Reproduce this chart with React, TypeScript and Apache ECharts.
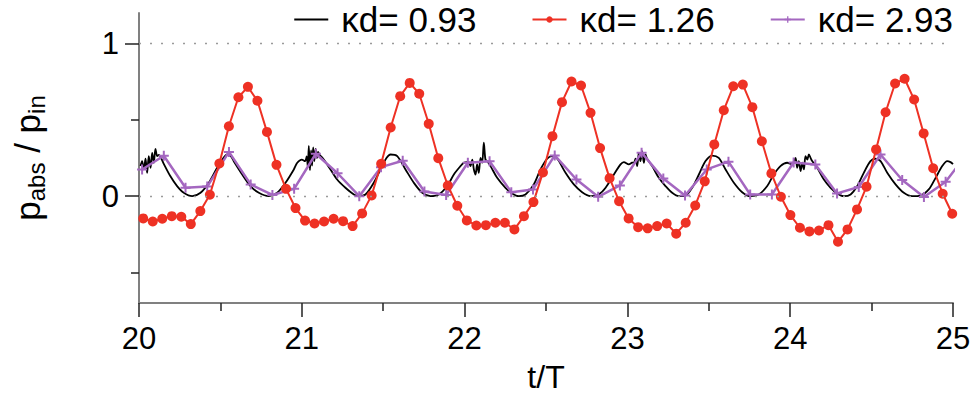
import React, { useEffect, useRef } from "react";
import * as echarts from "echarts";

const FONT = '"Liberation Sans", Arial, Helvetica, sans-serif';

// legend / series names
const seriesNames = ["κd= 0.93", "κd= 1.26", "κd= 2.93"];

// axis tick values
const xMin = 20;
const xMax = 25;
const xInterval = 1;
const yMin = -0.7;
const yMax = 1.2;
const yMajorTicks = [0, 1];
const yMinorTicks = [-0.5, 0.5];
const gridValues = [0, 1];

// κd = 0.93 : [t/T, p_abs/p_in]
const black093: [number, number][] = [
  [20.009, 0.197], [20.019, 0.229], [20.03, 0.175], [20.04, 0.245], [20.05, 0.153], [20.06, 0.262],
  [20.071, 0.186], [20.081, 0.284], [20.091, 0.219], [20.101, 0.31], [20.112, 0.262], [20.122, 0.27],
  [20.14, 0.24], [20.153, 0.21], [20.193, 0.13], [20.234, 0.066], [20.275, 0.022], [20.327, 0.0],
  [20.378, 0.022], [20.429, 0.088], [20.48, 0.186], [20.515, 0.245], [20.542, 0.273], [20.565, 0.26],
  [20.582, 0.229], [20.634, 0.142], [20.685, 0.066], [20.736, 0.022], [20.797, 0.0], [20.849, 0.022],
  [20.9, 0.088], [20.951, 0.175], [20.972, 0.219], [21.0, 0.24], [21.02, 0.229], [21.03, 0.26],
  [21.037, 0.19], [21.043, 0.33], [21.05, 0.17], [21.057, 0.3], [21.063, 0.2], [21.07, 0.32],
  [21.077, 0.23], [21.085, 0.31], [21.093, 0.25], [21.1, 0.29], [21.11, 0.27], [21.12, 0.26],
  [21.135, 0.24], [21.176, 0.175], [21.217, 0.109], [21.268, 0.055], [21.32, 0.011], [21.35, 0.0],
  [21.391, 0.011], [21.442, 0.088], [21.494, 0.197], [21.52, 0.25], [21.545, 0.273], [21.586, 0.262],
  [21.637, 0.175], [21.688, 0.088], [21.74, 0.022], [21.79, 0.0], [21.842, 0.011], [21.893, 0.066],
  [21.934, 0.142], [21.975, 0.197], [21.995, 0.219], [22.016, 0.223], [22.026, 0.223], [22.036, 0.197],
  [22.047, 0.24], [22.057, 0.175], [22.067, 0.142], [22.077, 0.208], [22.087, 0.153], [22.098, 0.25],
  [22.108, 0.219], [22.118, 0.35], [22.128, 0.24], [22.138, 0.23], [22.159, 0.197], [22.2, 0.12],
  [22.251, 0.055], [22.292, 0.018], [22.333, 0.0], [22.374, 0.011], [22.425, 0.077], [22.466, 0.175],
  [22.507, 0.245], [22.538, 0.262], [22.569, 0.245], [22.62, 0.153], [22.671, 0.077], [22.722, 0.026],
  [22.773, 0.0], [22.824, 0.011], [22.866, 0.055], [22.917, 0.142], [22.958, 0.208], [22.978, 0.223],
  [23.009, 0.208], [23.029, 0.219], [23.04, 0.22], [23.05, 0.245], [23.06, 0.197], [23.07, 0.284],
  [23.08, 0.23], [23.091, 0.295], [23.101, 0.219], [23.111, 0.273], [23.121, 0.245], [23.152, 0.197],
  [23.193, 0.12], [23.234, 0.066], [23.275, 0.022], [23.316, 0.0], [23.357, 0.004], [23.398, 0.055],
  [23.439, 0.142], [23.48, 0.23], [23.521, 0.266], [23.561, 0.251], [23.603, 0.175], [23.654, 0.088],
  [23.705, 0.026], [23.756, 0.0], [23.807, 0.011], [23.859, 0.066], [23.899, 0.142], [23.94, 0.197],
  [23.981, 0.219], [24.012, 0.208], [24.033, 0.251], [24.043, 0.186], [24.053, 0.23], [24.064, 0.164],
  [24.074, 0.219], [24.084, 0.175], [24.094, 0.262], [24.105, 0.24], [24.115, 0.273], [24.125, 0.251],
  [24.135, 0.23], [24.166, 0.186], [24.207, 0.109], [24.248, 0.055], [24.289, 0.018], [24.329, 0.0],
  [24.371, 0.011], [24.412, 0.066], [24.452, 0.153], [24.493, 0.23], [24.524, 0.245], [24.555, 0.23],
  [24.596, 0.153], [24.647, 0.077], [24.698, 0.022], [24.749, 0.0], [24.8, 0.004], [24.851, 0.044],
  [24.893, 0.12], [24.934, 0.197], [24.964, 0.23], [24.985, 0.223], [25.0, 0.21],
];

// κd = 1.26 : sampled every red126Step from red126Start
const red126Start = 20.026;
const red126Step = 0.05846;
const red126: number[] = [
  -0.146, -0.166, -0.148, -0.131, -0.135, -0.183, -0.098, 0.009, 0.214, 0.458,
  0.648, 0.716, 0.625, 0.421, 0.205, 0.048, -0.078, -0.16, -0.179, -0.166,
  -0.148, -0.164, -0.196, -0.113, 0.005, 0.212, 0.45, 0.655, 0.742, 0.671,
  0.474, 0.249, 0.07, -0.063, -0.159, -0.192, -0.19, -0.174, -0.174, -0.218,
  -0.131, -0.039, 0.155, 0.393, 0.616, 0.751, 0.725, 0.546, 0.315, 0.118,
  -0.033, -0.146, -0.203, -0.211, -0.196, -0.179, -0.246, -0.174, -0.061, 0.097,
  0.339, 0.563, 0.72, 0.731, 0.583, 0.36, 0.149, -0.004, -0.124, -0.207,
  -0.231, -0.225, -0.19, -0.299, -0.218, -0.087, 0.062, 0.306, 0.55, 0.738,
  0.769, 0.633, 0.411, 0.183, 0.016, -0.115,
];

// κd = 2.93 : sampled every purple293Step from purple293Start
const purple293Start = 20.019;
const purple293Step = 0.1334;
const purple293: number[] = [
  0.175, 0.265, 0.055, 0.063, 0.29, 0.077, 0.008, 0.048, 0.278, 0.15,
  0.0, 0.19, 0.232, 0.03, 0.008, 0.219, 0.229, 0.026, 0.044, 0.267,
  0.109, -0.004, 0.07, 0.285, 0.115, 0.004, 0.175, 0.226, 0.011, 0.011,
  0.221, 0.207, 0.018, 0.06, 0.273, 0.106, -0.005, 0.095, 0.28,
];

const BLACK = "#000000";
const RED = "#ee3124";
const PURPLE = "#a467c0";
const PLUS = "path://M4,0 H6 V4 H10 V6 H6 V10 H4 V6 H0 V4 H4 Z";

function buildOption() {
  const redData = red126.map((v, i) => [red126Start + i * red126Step, v]);
  const purpleData = purple293.map((v, i) => [purple293Start + i * purple293Step, v]);
  const tickStyle = { color: "#222", width: 1.5 };
  const axisLineStyle = { color: "#808080", width: 2 };
  return {
    animation: false,
    backgroundColor: "#ffffff",
    grid: { left: 139, right: 20, top: 13, bottom: 97, outerBoundsMode: "none", containLabel: false },
    legend: {
      data: [
        { name: seriesNames[0], itemStyle: { opacity: 0 } },
        { name: seriesNames[1] },
        { name: seriesNames[2] },
      ],
      right: 20,
      top: 2,
      padding: 0,
      itemWidth: 34,
      itemHeight: 8,
      itemGap: 55,
      textStyle: { fontFamily: FONT, fontSize: 35, color: "#000", padding: [0, 0, 0, 8] },
    },
    xAxis: {
      type: "value",
      min: xMin,
      max: xMax,
      interval: xInterval,
      axisLine: { show: true, onZero: false, lineStyle: axisLineStyle },
      axisTick: { show: true, length: 14, lineStyle: tickStyle },
      minorTick: { show: true, splitNumber: 2, length: 8, lineStyle: tickStyle },
      axisLabel: { fontFamily: FONT, fontSize: 31, color: "#000", margin: 20 },
      splitLine: { show: false },
      minorSplitLine: { show: false },
      name: "t/T",
      nameLocation: "middle",
      nameGap: 58,
      nameTextStyle: { fontFamily: FONT, fontSize: 32, color: "#000" },
    },
    yAxis: [
      {
        type: "value",
        min: yMin,
        max: yMax,
        position: "left",
        axisLine: { show: true, onZero: false, lineStyle: axisLineStyle },
        axisTick: { show: true, length: 14, lineStyle: tickStyle, customValues: yMajorTicks },
        axisLabel: { fontFamily: FONT, fontSize: 31, color: "#000", margin: 20, customValues: yMajorTicks },
        splitLine: { show: false },
        name: "{m|p}{s|abs}{m| / p}{s|in}",
        nameLocation: "middle",
        nameGap: 91,
        nameTextStyle: {
          fontFamily: FONT,
          color: "#000",
          rich: {
            m: { fontFamily: FONT, fontSize: 35, lineHeight: 35, verticalAlign: "top", color: "#000" },
            s: { fontFamily: FONT, fontSize: 24, lineHeight: 38, verticalAlign: "bottom", color: "#000" },
          },
        },
      },
      {
        type: "value",
        min: yMin,
        max: yMax,
        position: "left",
        axisLine: { show: false },
        axisTick: { show: true, length: 8, lineStyle: tickStyle, customValues: yMinorTicks },
        axisLabel: { show: false },
        splitLine: { show: false },
      },
    ],
    series: [
      {
        name: seriesNames[0],
        type: "line",
        data: black093,
        symbol: "none",
        showSymbol: false,
        smooth: 0.3,
        color: BLACK,
        lineStyle: { color: BLACK, width: 1.8 },
        z: 2,
        markLine: {
          silent: true,
          symbol: ["none", "none"],
          label: { show: false },
          lineStyle: { color: "#9a9a9a", type: [2, 9], width: 1.3 },
          data: gridValues.map((v) => ({ yAxis: v })),
        },
      },
      {
        name: seriesNames[1],
        type: "line",
        data: redData,
        symbol: "circle",
        symbolSize: 10,
        color: RED,
        itemStyle: { color: RED },
        lineStyle: { color: RED, width: 2 },
        z: 4,
      },
      {
        name: seriesNames[2],
        type: "line",
        data: purpleData,
        symbol: PLUS,
        symbolSize: [10, 10],
        color: PURPLE,
        itemStyle: { color: PURPLE },
        lineStyle: { color: PURPLE, width: 2.5 },
        z: 3,
      },
    ],
  };
}

export default function App() {
  const ref = useRef<HTMLDivElement>(null);
  useEffect(() => {
    if (!ref.current) return;
    const chart = echarts.init(ref.current, null, { renderer: "svg" });
    chart.setOption(buildOption() as any);
    return () => {
      chart.dispose();
    };
  }, []);
  return (
    <div
      ref={ref}
      style={{ position: "fixed", left: 0, top: 0, width: 973, height: 400, background: "#fff" }}
    />
  );
}
